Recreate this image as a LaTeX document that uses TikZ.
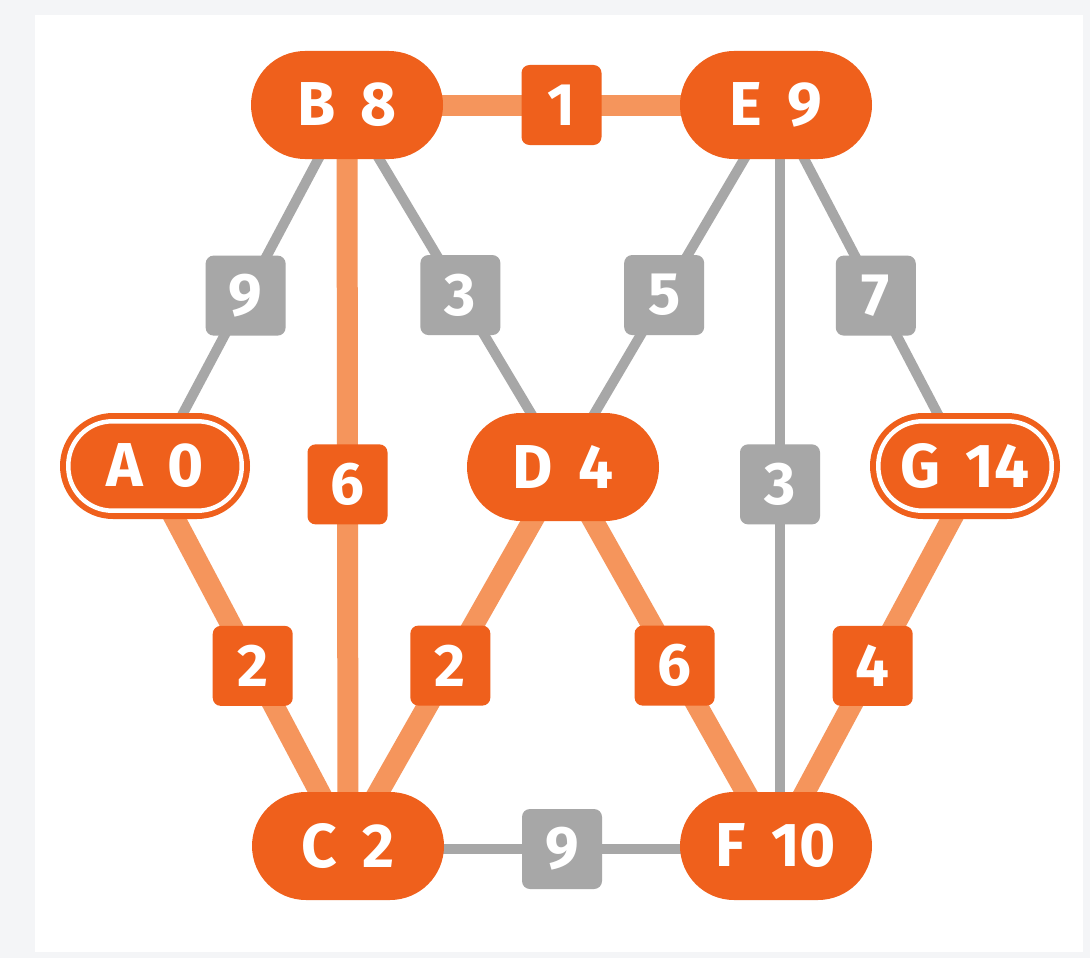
\documentclass[tikz,border=0pt]{standalone}
\usepackage{fontspec}
\setmainfont{Fira Sans}[WordSpace=1.7]
\usetikzlibrary{backgrounds}
\definecolor{nodeor}{HTML}{EF601C}
\definecolor{edgeor}{HTML}{F5955C}
\definecolor{edgegr}{HTML}{A7A7A7}
\definecolor{pagebg}{HTML}{F4F5F7}
\begin{document}
\begin{tikzpicture}[x=1pt,y=-1pt,
  city/.style={rectangle, fill=nodeor, rounded corners=54pt, minimum width=192pt,
    minimum height=108pt, text=white, inner sep=0pt,
    font=\bfseries\fontsize{62}{62}\selectfont},
  endcity/.style={city, minimum width=190pt, minimum height=106pt, rounded corners=53pt},
  ring/.style={draw=white, line width=4.5pt, rounded corners=44pt},
  wlbl/.style={rectangle, rounded corners=8pt, minimum size=80pt, inner sep=0pt,
    text=white, font=\bfseries\fontsize{60}{60}\selectfont},
  olbl/.style={wlbl, fill=nodeor},
  glbl/.style={wlbl, fill=edgegr},
  oedge/.style={draw=edgeor, line width=21pt},
  gedge/.style={draw=edgegr, line width=10pt}]
\useasboundingbox (0,0) rectangle (1090,958);

% nodes
\node[city] (B) at (347,105) {B 8};
\node[city] (E) at (776,105) {E 9};
\node[endcity] (A) at (155,466) {A 0};
\node[city] (D) at (563,467) {D 4};
\node[endcity] (G) at (965,466) {G 14};
\node[city] (C) at (348,846) {C 2};
\node[city] (F) at (776,846) {F 10};

\draw[ring] ([shift={(8.5pt,-8.5pt)}]A.north west) rectangle ([shift={(-8.5pt,8.5pt)}]A.south east);
\draw[ring] ([shift={(8.5pt,-8.5pt)}]G.north west) rectangle ([shift={(-8.5pt,8.5pt)}]G.south east);

\begin{scope}[on background layer]
  \fill[pagebg] (0,0) rectangle (1090,958);
  \fill[white] (35,15) rectangle (1083,952);
  % gray edges
  \draw[gedge] (B.center) -- node[glbl, pos=0.528] (wBA) {9} (A.center);
  \draw[gedge] (B.center) -- node[glbl, pos=0.525] (wBD) {3} (D.center);
  \draw[gedge] (E.center) -- node[glbl, pos=0.525] (wED) {5} (D.center);
  \draw[gedge] (E.center) -- node[glbl, pos=0.528] (wEG) {7} (G.center);
  \draw[gedge] ([xshift=4pt]E.center) -- node[glbl, pos=0.512] (wEF) {3} ([xshift=4pt]F.center);
  \draw[gedge] ([yshift=-3pt]C.center) -- node[glbl] (wCF) {9} ([yshift=-3pt]F.center);
  % orange edges
  \draw[oedge] (B.center) -- node[olbl] (wBE) {1} (E.center);
  \draw[oedge] (B.center) -- node[olbl, pos=0.512] (wBC) {6} (C.center);
  \draw[oedge] ([xshift=-8pt]A.center) -- node[olbl, pos=0.526] (wAC) {2} (C.center);
  \draw[oedge] (D.center) -- node[olbl, pos=0.524] (wDC) {2} (C.center);
  \draw[oedge] (D.center) -- node[olbl, pos=0.524] (wDF) {6} (F.center);
  \draw[oedge] ([xshift=15pt]G.center) -- node[olbl, pos=0.526] (wGF) {4} (F.center);
\end{scope}
\end{tikzpicture}
\end{document}
